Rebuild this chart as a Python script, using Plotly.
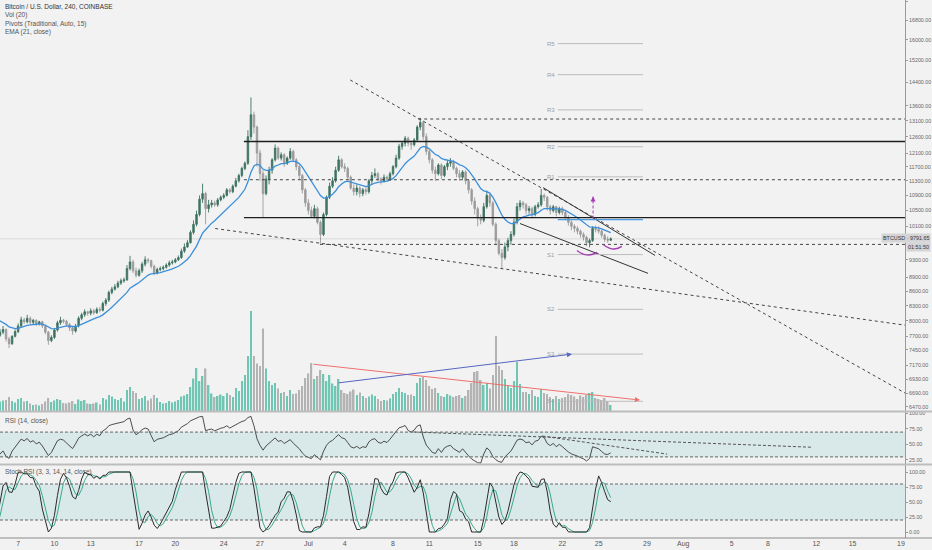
import numpy as np
import pandas as pd
import plotly.graph_objects as go
from plotly.subplots import make_subplots

# BTCUSD, Coinbase, 6h bars from 2019-06-02 00:00, one row per day (00, 06, 12, 18h)
bar_start = '2019-06-02 00:00'
first_open = 8550

closes = [
    8600, 8650, 8700, 8720,      # Jun 2
    8500, 8300, 8150, 8100,
    7950, 7700, 7600, 7650,
    7700, 7720, 7780, 7830,      # Jun 5
    7650, 7560, 7700, 7790,
    7900, 8020, 7980, 8050,
    7970, 8010, 7940, 7980,
    7900, 7780, 7620, 7680,
    7820, 7960, 8010, 7990,      # Jun 10
    7930, 7860, 7800, 7900,
    8050, 8120, 8180, 8150,
    8200, 8160, 8230, 8210,
    8350, 8420, 8580, 8650,
    8700, 8780, 8830, 8850,      # Jun 15
    9100, 9250, 9050, 8950,
    9050, 9200, 9300, 9280,
    9150, 9000, 9080, 9100,
    9130, 9180, 9230, 9250,
    9300, 9350, 9500, 9600,      # Jun 20
    9700, 9950, 10150, 10400,
    10800, 10950, 10550, 10650,
    10700, 10650, 10780, 10850,
    10900, 11050, 11000, 11150,
    11300, 11450, 11650, 11800,  # Jun 25
    12600, 13300, 12900, 12100,
    11500, 10950, 11350, 11600,
    11900, 12250, 11950, 12050,
    11800, 11950, 12150, 11900,
    11700, 11450, 11050, 10700,  # Jun 30
    10500, 10350, 10550, 10200,
    9900, 10400, 10850, 11150,
    11300, 11600, 11900, 11700,
    11650, 11400, 11100, 11000,
    11100, 10950, 11050, 11000,  # Jul 5
    11300, 11450, 11500, 11350,
    11300, 11400, 11350, 11500,
    11700, 11950, 12300, 12400,
    12550, 12400, 12350, 12500,
    12900, 13050, 12600, 12150,  # Jul 10
    11900, 11600, 11500, 11750,
    11450, 11700, 11800, 11850,
    11650, 11500, 11400, 11550,
    11300, 11050, 10750, 10550,
    10300, 10250, 10600, 10900,  # Jul 15
    10700, 10150, 9750, 9450,
    9350, 9600, 9750, 9900,
    10200, 10600, 10700, 10650,
    10500, 10550, 10400, 10600,
    10650, 10900, 10850, 10600,  # Jul 20
    10500, 10600, 10450, 10550,
    10450, 10320, 10200, 10100,
    10050, 9980, 9900, 9830,
    9700, 9750, 10050, 10020,
    9980, 9880, 9780, 9760,      # Jul 25
    9791.65,
]

highs = [
    8640, 8700, 8760, 8790,
    8740, 8520, 8330, 8200,
    8120, 7980, 7740, 7700,
    7760, 7790, 7840, 7900,
    7850, 7690, 7720, 7830,
    7950, 8080, 8060, 8120,
    8090, 8040, 8030, 8000,
    8000, 7930, 7800, 7720,
    7850, 8000, 8080, 8040,
    8020, 7960, 7890, 7940,
    8090, 8160, 8230, 8200,
    8250, 8240, 8270, 8280,
    8390, 8460, 8620, 8700,
    8760, 8830, 8880, 8900,
    9180, 9390, 9300, 9120,
    9100, 9250, 9380, 9340,
    9300, 9190, 9120, 9150,
    9170, 9220, 9280, 9300,
    9340, 9400, 9560, 9680,
    9760, 10000, 10250, 10500,
    10900, 11220, 11000, 10780,
    10780, 10760, 10830, 10900,
    10960, 11100, 11100, 11200,
    11380, 11500, 11700, 11850,
    12800, 13880, 13400, 12950,
    12200, 11600, 11450, 11700,
    11950, 12360, 12300, 12120,
    12100, 12000, 12250, 12200,
    11950, 11750, 11500, 11100,
    10800, 10600, 10650, 10600,
    10250, 10450, 10900, 11250,
    11400, 11700, 12020, 11950,
    11800, 11700, 11450, 11200,
    11200, 11150, 11100, 11120,
    11350, 11550, 11650, 11550,
    11400, 11480, 11450, 11560,
    11750, 12050, 12380, 12450,
    12620, 12600, 12480, 12560,
    12960, 13200, 13100, 12700,
    12200, 11950, 11700, 11800,
    11800, 11750, 11880, 11950,
    11900, 11700, 11600, 11600,
    11600, 11350, 11100, 10850,
    10600, 10400, 10700, 11030,
    10950, 10750, 10200, 9800,
    9550, 9700, 9820, 9980,
    10300, 10700, 10780, 10750,
    10700, 10620, 10600, 10650,
    10720, 11080, 10950, 10880,
    10650, 10650, 10620, 10600,
    10600, 10500, 10380, 10250,
    10150, 10100, 10020, 9950,
    9870, 9800, 10100, 10120,
    10100, 10020, 9920, 9850,
    9830,
]

lows = [
    8520, 8580, 8620, 8660,
    8460, 8260, 8100, 8030,
    7900, 7650, 7480, 7560,
    7600, 7640, 7690, 7740,
    7600, 7480, 7540, 7680,
    7760, 7870, 7940, 7950,
    7930, 7930, 7900, 7910,
    7860, 7740, 7540, 7590,
    7650, 7790, 7920, 7950,
    7890, 7800, 7730, 7770,
    7870, 8010, 8080, 8100,
    8110, 8120, 8140, 8170,
    8190, 8300, 8380, 8540,
    8620, 8670, 8740, 8790,
    8830, 9060, 9000, 8900,
    8920, 9000, 9150, 9220,
    9100, 8950, 8970, 9040,
    9060, 9100, 9140, 9190,
    9220, 9270, 9320, 9460,
    9580, 9680, 9900, 10100,
    10350, 10700, 10150, 10450,
    10580, 10600, 10600, 10740,
    10800, 10870, 10950, 10960,
    11120, 11250, 11400, 11600,
    11750, 12500, 12700, 11700,
    11300, 10320, 10900, 11200,
    11500, 11850, 11900, 11880,
    11700, 11750, 11900, 11850,
    11600, 11350, 10950, 10600,
    10400, 10320, 10300, 10150,
    9680, 9860, 10350, 10800,
    11100, 11250, 11550, 11650,
    11550, 11350, 11050, 10900,
    10900, 10850, 10880, 10920,
    10950, 11200, 11380, 11300,
    11200, 11250, 11280, 11300,
    11450, 11650, 11900, 12200,
    12300, 12300, 12200, 12300,
    12450, 12800, 12500, 12050,
    11800, 11500, 11300, 11450,
    11350, 11400, 11600, 11700,
    11600, 11400, 11300, 11350,
    11200, 10950, 10650, 10400,
    10100, 10150, 10200, 10550,
    10600, 10100, 9650, 9400,
    9100, 9300, 9500, 9650,
    9850, 10150, 10500, 10550,
    10400, 10420, 10300, 10350,
    10550, 10600, 10750, 10500,
    10400, 10450, 10350, 10400,
    10380, 10250, 10120, 10000,
    9950, 9900, 9820, 9750,
    9620, 9590, 9720, 9950,
    9920, 9820, 9720, 9700,
    9740,
]

volumes = [
    1800, 1500, 1900, 1600,
    2600, 3000, 2400, 2200,
    2800, 3400, 3600, 2200,
    1800, 1500, 1900, 2100,
    2200, 2800, 2000, 1700,
    2400, 2600, 1900, 2000,
    1500, 1200, 1300, 1100,
    1400, 1900, 2600, 1800,
    2100, 2400, 2200, 1600,
    1500, 1700, 2000, 1400,
    2300, 2000, 2200, 1500,
    1400, 1500, 1700, 1300,
    2600, 2300, 3200, 2900,
    2400, 2200, 2600, 1900,
    4200, 4800, 4000, 3600,
    2400, 2600, 3000, 2100,
    2500, 3200, 2600, 1800,
    1500, 1600, 2000, 1700,
    1900, 2200, 2900, 3100,
    3400, 4800, 6500, 8600,
    6000, 7000, 8500, 5200,
    3500, 2800, 3000, 3300,
    3000, 3600, 3200, 2800,
    4600, 4000, 6000, 7200,
    11000, 20000, 11000, 9500,
    9000, 16500, 8500, 6000,
    5200, 5600, 4500, 3600,
    3800, 3000, 4200, 3400,
    3500, 4200, 5000, 6600,
    7500, 9600, 6400, 7000,
    8200, 7400, 6000, 7200,
    5500, 5000, 6400, 4200,
    3600, 3400, 3900, 4300,
    3200, 3700, 3000, 2600,
    2900, 3300, 3000, 2400,
    2000, 2200, 2100, 2500,
    3400, 3800, 4600, 3800,
    3600, 3200, 3300, 3000,
    5600, 6600, 6800, 6200,
    5000, 4400, 4600, 3600,
    3000, 2800, 3400, 3100,
    2800, 3000, 3200, 2600,
    3000, 4200, 5600, 7800,
    8000, 6200, 5200, 5600,
    4500, 7200, 15000, 9000,
    8200, 6400, 5000, 4600,
    6000, 9800, 5400, 3800,
    3800, 3400, 4200, 3000,
    2800, 4400, 3600, 3400,
    2800, 2400, 3000, 2400,
    2600, 2800, 3400, 3200,
    2900, 2400, 3100, 2800,
    3200, 3600, 3800, 2600,
    2400, 2200, 2600, 2000,
    1200,
]

# indicator lengths scaled to 6h bars (chart itself is 4h)
ema_span = 14
rsi_len = 9
stoch_len = 9

x_range = ['2019-06-05 12:00', '2019-08-19 08:00']
tick_dates = ['2019-06-07', '2019-06-10', '2019-06-13', '2019-06-17', '2019-06-20', '2019-06-24',
              '2019-06-27', '2019-07-01', '2019-07-04', '2019-07-08', '2019-07-11', '2019-07-15',
              '2019-07-18', '2019-07-22', '2019-07-25', '2019-07-29', '2019-08-01', '2019-08-05',
              '2019-08-08', '2019-08-12', '2019-08-15', '2019-08-19']
tick_labels = ['7', '10', '13', '17', '20', '24', '27', 'Jul', '4', '8', '11', '15',
               '18', '22', '25', '29', 'Aug', '5', '8', '12', '15', '19']
price_ticks = [6470, 6690, 6930, 7170, 7450, 7700, 8000, 8300, 8600, 8900, 9300, 10100, 10500,
               10900, 11300, 11700, 12100, 12600, 13100, 13600, 14400, 15200, 16000, 16800, 17600]

pivot_names = ['R5', 'R4', 'R3', 'R2', 'R1', 'S1', 'S2', 'S3', 'S4']
pivot_levels = [15850, 14680, 13460, 12290, 11410, 9420, 8230, 7370, 6560]
pivot_p = 10270
pivot_from, pivot_to = '2019-07-21 15:00', '2019-07-28 16:00'

last_price = 9791.65
countdown = '01:51:50'

# drawings: (x0, price0, x1, price1)
solid_levels = [('2019-06-25 16:00', 12450), ('2019-06-25 16:00', 10320)]
dotted_levels = [('2019-07-10 02:00', 13160), ('2019-06-25 16:00', 11330), ('2019-07-01 23:00', 9660)]
dotted_trends = [('2019-07-04 11:00', 14490, '2019-08-19 08:00', 6695),
                 ('2019-06-23 07:00', 10046, '2019-08-19 08:00', 7915)]
wedge_lines = [('2019-07-20 10:00', 11110, '2019-07-29 16:00', 9400),
               ('2019-07-18 12:00', 10170, '2019-07-29 02:00', 8994)]
vol_arrows = [('2019-07-01 07:00', 7190, '2019-07-28 10:00', 6580),
              ('2019-07-03 09:00', 6862, '2019-07-22 19:00', 7369)]
vol_arrow_colors = ['#ef6f6c', '#5566c0']
target_x, target_from, target_to = '2019-07-24 13:00', 10296, 10868
arcs = [('2019-07-23_05:00', 9517, '2019-07-24_01:00', 9332, '2019-07-24_21:00', 9470),
        ('2019-07-25_09:00', 9659, '2019-07-26_05:00', 9470, '2019-07-26_22:00', 9612)]
rsi_trends = [('2019-07-09 16:00', 70.2, '2019-08-11 17:00', 45.5),
              ('2019-07-20 08:00', 63.7, '2019-07-30 16:00', 34.5)]

bg = '#f2f2f3'
up_col, down_col = '#3d7360', '#9b9b9b'
vol_up, vol_down = '#6fc7b3', '#b3b3b3'
purple = '#a43bb5'
fine_dash = '3px,2px'

df = pd.DataFrame({'close': closes, 'high': highs, 'low': lows, 'volume': volumes},
                  index=pd.date_range(bar_start, periods=len(closes), freq='6h'))
df['open'] = df.close.shift(1).fillna(first_open)
df['ema'] = df.close.ewm(span=ema_span, adjust=False).mean()
delta = df.close.diff()
gain = delta.clip(lower=0).ewm(alpha=1 / rsi_len, adjust=False).mean()
loss = (-delta.clip(upper=0)).ewm(alpha=1 / rsi_len, adjust=False).mean()
df['rsi'] = 100 - 100 / (1 + gain / loss)
lo = df.rsi.rolling(stoch_len).min()
hi = df.rsi.rolling(stoch_len).max()
df['k'] = ((df.rsi - lo) / (hi - lo) * 100).rolling(3).mean()
df['d'] = df.k.rolling(3).mean()

fig = make_subplots(rows=3, cols=1, shared_xaxes=True, vertical_spacing=0.002,
                    specs=[[{'secondary_y': True}], [{}], [{}]])

fig.add_trace(go.Bar(
    x=df.index, y=df.volume,
    marker_color=np.where(df.close >= df.open, vol_up, vol_down),
    marker_line_width=0, hoverinfo='skip',
), row=1, col=1, secondary_y=True)

fig.add_trace(go.Candlestick(
    x=df.index, open=df.open, high=df.high, low=df.low, close=df.close,
    increasing=dict(line=dict(color=up_col, width=0.9), fillcolor=up_col),
    decreasing=dict(line=dict(color=down_col, width=0.9), fillcolor=down_col),
    whiskerwidth=0, hoverinfo='skip',
), row=1, col=1, secondary_y=False)

fig.add_trace(go.Scatter(
    x=df.index, y=df.ema, mode='lines', line=dict(color='#3b8fdb', width=1.3), hoverinfo='skip',
), row=1, col=1, secondary_y=False)

fig.add_trace(go.Scatter(
    x=df.index, y=df.rsi, mode='lines', line=dict(color='#3a3a3a', width=0.9), hoverinfo='skip',
), row=2, col=1)

fig.add_trace(go.Scatter(
    x=df.index, y=df.d, mode='lines', line=dict(color='#3aa98e', width=1), hoverinfo='skip',
), row=3, col=1)
fig.add_trace(go.Scatter(
    x=df.index, y=df.k, mode='lines', line=dict(color='#2a2a2a', width=1), hoverinfo='skip',
), row=3, col=1)

# pane backgrounds / bands
for yref, lo_v, hi_v in [('y3', 30, 70), ('y4', 20, 80)]:
    fig.add_shape(type='rect', xref='paper', yref=yref, x0=0, x1=1, y0=lo_v, y1=hi_v,
                  fillcolor='rgba(38,166,154,0.12)', line_width=0, layer='below')
    for v in (lo_v, hi_v):
        fig.add_shape(type='line', xref='paper', yref=yref, x0=0, x1=1, y0=v, y1=v,
                      line=dict(color='#666', width=1, dash=fine_dash))

# pane separators
for py in (0.2351, 0.1366, 0.0):
    fig.add_shape(type='line', xref='paper', yref='paper', x0=0, x1=1.03, y0=py, y1=py,
                  line=dict(color='#bdbdbd' if py else '#8a8a8a', width=2 if py else 1))

# last price line
fig.add_shape(type='line', xref='paper', yref='y', x0=0, x1=1, y0=last_price, y1=last_price,
              line=dict(color='rgba(0,0,0,0.10)', width=1))

for x0, p in solid_levels:
    fig.add_shape(type='line', xref='x', yref='y', x0=x0, x1=x_range[1], y0=p, y1=p,
                  line=dict(color='#1e1e1e', width=1.4))
for x0, p in dotted_levels:
    fig.add_shape(type='line', xref='x', yref='y', x0=x0, x1=x_range[1], y0=p, y1=p,
                  line=dict(color='#444', width=1, dash='dot'))
for x0, p0, x1, p1 in dotted_trends:
    fig.add_shape(type='line', xref='x', yref='y', x0=x0, y0=p0, x1=x1, y1=p1,
                  line=dict(color='#444', width=1, dash='dot'))
for x0, p0, x1, p1 in wedge_lines:
    fig.add_shape(type='line', xref='x', yref='y', x0=x0, y0=p0, x1=x1, y1=p1,
                  line=dict(color='#333', width=1))

# weekly pivots
for name, lvl in zip(pivot_names, pivot_levels):
    fig.add_shape(type='line', xref='x', yref='y', x0=pivot_from, x1=pivot_to, y0=lvl, y1=lvl,
                  line=dict(color='#bcbcbc', width=1))
    fig.add_annotation(x=pivot_from, y=np.log10(lvl), xref='x', yref='y', text=name,
                       showarrow=False, xanchor='right', xshift=-1,
                       font=dict(size=6, color='#a0a0a0'))
fig.add_shape(type='line', xref='x', yref='y', x0=pivot_from, x1=pivot_to, y0=pivot_p, y1=pivot_p,
              line=dict(color='#4a9be0', width=1.3))

# target arrow and arcs
fig.add_shape(type='line', xref='x', yref='y', x0=target_x, x1=target_x, y0=target_from, y1=target_to,
              line=dict(color=purple, width=1, dash=fine_dash))
fig.add_annotation(x=target_x, y=np.log10(target_to), xref='x', yref='y', ax=0, ay=5,
                   showarrow=True, arrowhead=2, arrowsize=1, arrowwidth=1, arrowcolor=purple, text='')
for xa, pa, xc, pc, xb, pb in arcs:
    fig.add_shape(type='path', xref='x', yref='y', path=f'M {xa},{pa} Q {xc},{pc} {xb},{pb}',
                  line=dict(color=purple, width=1.3))

for (x0, p0, x1, p1), col in zip(vol_arrows, vol_arrow_colors):
    fig.add_annotation(x=x1, y=np.log10(p1), ax=x0, ay=np.log10(p0), xref='x', yref='y',
                       axref='x', ayref='y', showarrow=True, arrowhead=2, arrowsize=1,
                       arrowwidth=1, arrowcolor=col, text='')

for x0, v0, x1, v1 in rsi_trends:
    fig.add_shape(type='line', xref='x', yref='y3', x0=x0, y0=v0, x1=x1, y1=v1,
                  line=dict(color='#555', width=1, dash=fine_dash))

# legends
legend_lines = [('Bitcoin / U.S. Dollar, 240, COINBASE', 7, '#333'), ('Vol (20)', 15, '#555'),
                ('Pivots (Traditional, Auto, 15)', 24, '#555'), ('EMA (21, close)', 32, '#555'),
                ('RSI (14, close)', 421, '#555'), ('Stoch RSI (3, 3, 14, 14, close)', 472, '#555')]
for txt, py, col in legend_lines:
    fig.add_annotation(x=0.0035, y=1 - py / 538, xref='paper', yref='paper', text=txt,
                       showarrow=False, xanchor='left', yanchor='middle',
                       font=dict(size=6.5, color=col))

fig.add_annotation(x=1.029, y=1 - 238 / 538, xref='paper', yref='paper',
                   text=f'BTCUSD · {last_price:.2f}', showarrow=False, xanchor='right',
                   yanchor='middle', bgcolor='#d4d4d6', font=dict(size=5.4, color='#333'))
fig.add_annotation(x=1.029, y=1 - 247 / 538, xref='paper', yref='paper', text=countdown,
                   showarrow=False, xanchor='right', yanchor='middle', bgcolor='#d4d4d6',
                   font=dict(size=5.4, color='#333'))

axis_common = dict(side='right', showgrid=False, zeroline=False, showline=True, linecolor='#9a9a9a',
                   ticks='outside', ticklen=2, tickcolor='#9a9a9a', tickfont=dict(size=5.3, color='#666'),
                   automargin=False)

fig.update_layout(
    template='none',
    width=932, height=550,
    margin=dict(l=0, r=27, t=0, b=12),
    paper_bgcolor=bg, plot_bgcolor=bg,
    showlegend=False, bargap=0.5, hovermode=False,
    font=dict(family='Liberation Sans, Arial, sans-serif', size=7, color='#555'),
    yaxis=dict(type='log', domain=[0.2361, 1], range=[np.log10(6405), np.log10(17650)],
               tickvals=price_ticks, ticktext=[f'{v:.2f}' for v in price_ticks], **axis_common),
    yaxis2=dict(domain=[0.2361, 1], range=[0, 82200], visible=False, showgrid=False),
    yaxis3=dict(domain=[0.1375, 0.2342], range=[18.5, 102.4], tickvals=[25, 50, 75, 100],
                ticktext=['25.00', '50.00', '75.00', '100.00'], **axis_common),
    yaxis4=dict(domain=[0.0, 0.1357], range=[-10, 111.7], tickvals=[0, 25, 50, 75, 100],
                ticktext=['0.00', '25.00', '50.00', '75.00', '100.00'], **axis_common),
)

for ax in ('xaxis', 'xaxis2', 'xaxis3'):
    fig.layout[ax].update(domain=[0, 1], range=x_range, showgrid=False, zeroline=False,
                          showticklabels=False, rangeslider=dict(visible=False))
fig.layout.xaxis3.update(showticklabels=True, tickvals=tick_dates, ticktext=tick_labels,
                         tickfont=dict(size=7, color='#555'), ticks='', showline=False)

# page has a default 8px body margin; drop it so the chart sits at the window's corner
fig.write_html('out.html', config={'displayModeBar': False},
               post_script="document.body.style.margin='0px';")
